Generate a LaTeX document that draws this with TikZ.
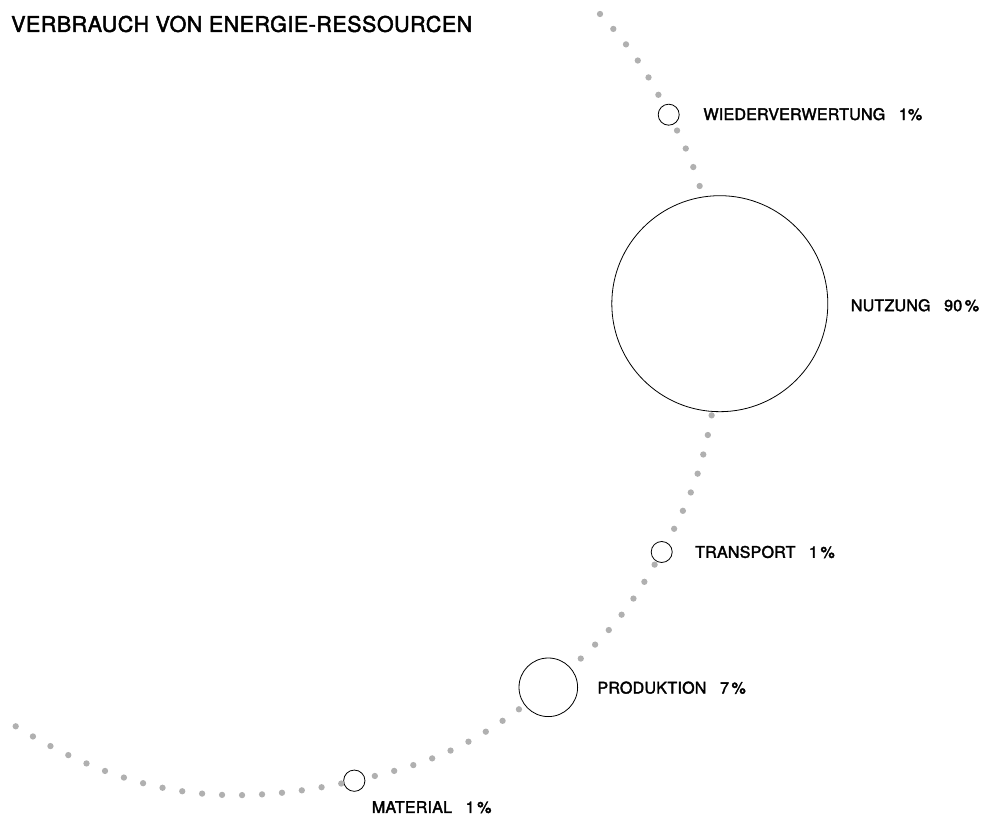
\documentclass[tikz,border=0pt]{standalone}
\usepackage{fontspec}
\setmainfont{TeX Gyre Heros}
\newfontfamily\labelfont[FakeBold=2.2,LetterSpace=1.5]{TeX Gyre Heros}
\newfontfamily\titlefont[FakeBold=2.2,LetterSpace=2.3]{TeX Gyre Heros}
\definecolor{dotgray}{RGB}{176,176,176}
\tikzset{
  stage/.style={circle,draw=black,line width=0.8pt,fill=white,inner sep=0pt},
  stagetxt/.style={anchor=west,inner sep=0pt,font=\labelfont\fontsize{16}{18}\selectfont},
  trail/.style={dotgray,line width=6.3pt,line cap=round,dash pattern=on 0pt off 20pt}
}
\newcommand{\gap}{\hspace{0.85em}}
\begin{document}
\begin{tikzpicture}[x=1pt,y=1pt]
                \useasboundingbox (0,0) rectangle (984,816);
                %% title
                \node[anchor=west,inner sep=0pt,font=\titlefont\fontsize{21.5}{24}\selectfont] (title) at (11,792) {VERBRAUCH VON ENERGIE-RESSOURCEN};
                %% stages
                \node[stage,minimum size=21pt] (wieder) at (668.7,701.3) {};
                \node[stage,minimum size=216pt] (nutzung) at (719.8,512.3) {};
                \node[stage,minimum size=21pt] (transport) at (661.7,264) {};
                \node[stage,minimum size=58.6pt] (produktion) at (548.3,128.7) {};
                \node[stage,minimum size=21.3pt] (material) at (354.3,35.3) {};
                %% labels
                \node[stagetxt] (wiedertxt) at (703.3,701.8) {WIEDERVERWERTUNG\gap 1\%};
                \node[stagetxt] (nutzungtxt) at (850.7,510.7) {NUTZUNG\gap 90\,\%};
                \node[stagetxt] (transporttxt) at (695,264) {TRANSPORT\gap 1\,\%};
                \node[stagetxt] (produktiontxt) at (597.3,128.3) {PRODUKTION\gap 7\,\%};
                \node[stagetxt,anchor=north west] (materialtxt) at (371.7,15) {MATERIAL\gap 1\,\%};
                %% dotted trail
                \coordinate (start) at (600,802);
                \coordinate (finish) at (15.7,89.7);
                \draw[trail] (start) to[bend left=7.5] (wieder);
                \draw[trail,shorten <=7pt] (wieder) to[bend left=5.5] (nutzung.99);
                \draw[trail,shorten <=3.6pt] (nutzung.-94) to[bend left=9.1] (transport);
                \draw[trail,shorten <=3.6pt] (transport) to[bend left=9] (produktion.41);
                \draw[trail,shorten <=7pt] (produktion.-143) to[bend left=11.5] (material);
                \draw[trail] (finish) to[bend right=21.5] (material);
            \end{tikzpicture}
\end{document}
